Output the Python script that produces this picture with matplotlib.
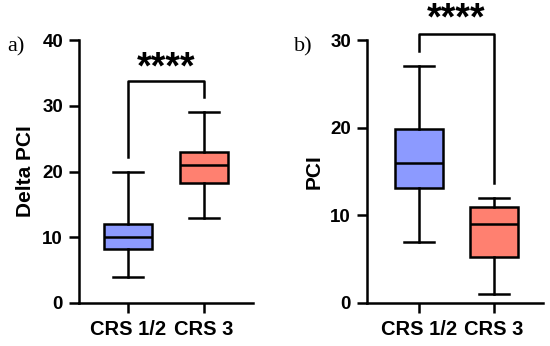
import matplotlib.pyplot as plt

plt.rcParams['font.family'] = ['Liberation Sans', 'DejaVu Sans']

groups = ["CRS 1/2", "CRS 3"]
colors = ["#8C9AFF", "#FF8070"]

# panel a: Delta PCI  (whislo, q1, med, q3, whishi)
delta_lo = [4, 13]
delta_q1 = [8.2, 18.2]
delta_med = [10, 21]
delta_q3 = [12, 23]
delta_hi = [20, 29]

# panel b: PCI
pci_lo = [7, 1]
pci_q1 = [13.1, 5.2]
pci_med = [16, 9]
pci_q3 = [19.9, 11]
pci_hi = [27, 12]


def draw_panel(ax, lo, q1, med, q3, hi, ylim, yticks, ylabel, bracket, star_y, xlim):
    stats = []
    for i in range(len(groups)):
        stats.append(dict(label=groups[i], whislo=lo[i], q1=q1[i], med=med[i],
                          q3=q3[i], whishi=hi[i]))
    bp = ax.bxp(stats, positions=[1, 2], widths=0.64, patch_artist=True,
                showfliers=False, capwidths=0.4,
                boxprops=dict(linewidth=1.8, edgecolor="black"),
                medianprops=dict(color="black", linewidth=1.8),
                whiskerprops=dict(color="black", linewidth=1.8),
                capprops=dict(color="black", linewidth=1.8))
    for patch, c in zip(bp["boxes"], colors):
        patch.set_facecolor(c)

    ax.set_xlim(*xlim)
    ax.set_ylim(*ylim)
    ax.set_yticks(yticks)
    ax.spines["top"].set_visible(False)
    ax.spines["right"].set_visible(False)
    for s in ["left", "bottom"]:
        ax.spines[s].set_linewidth(1.8)
    ax.tick_params(width=1.8, length=7.5, pad=4)
    ax.tick_params(axis="y", labelsize=13.5)
    ax.tick_params(axis="x", labelsize=14.5, pad=5)
    for lab in ax.get_xticklabels() + ax.get_yticklabels():
        lab.set_fontweight("bold")
    ax.set_ylabel(ylabel, fontsize=15, fontweight="bold", labelpad=5)

    yl, ytop, yr = bracket
    ax.plot([1, 1, 2, 2], [yl, ytop, ytop, yr], color="black", lw=1.8,
            clip_on=False)
    ax.text(1.5, star_y, "****", ha="center", va="center", fontsize=27,
            fontweight="bold", clip_on=False)


fig = plt.figure(figsize=(5.5, 3.46), dpi=100)
ax1 = fig.add_axes([0.1436, 0.1243, 0.3164, 0.76])
ax2 = fig.add_axes([0.667, 0.1243, 0.32, 0.76])

draw_panel(ax1, delta_lo, delta_q1, delta_med, delta_q3, delta_hi,
           (0, 40), [0, 10, 20, 30, 40], "Delta PCI", (22.2, 33.8, 31.3), 35.6,
           (0.355, 2.645))
draw_panel(ax2, pci_lo, pci_q1, pci_med, pci_q3, pci_hi,
           (0, 30), [0, 10, 20, 30], "PCI", (28.7, 30.7, 13.7), 32.3,
           (0.307, 2.65))

fig.text(0.013, 0.85, "a)", fontsize=16, family="Liberation Serif")
fig.text(0.535, 0.85, "b)", fontsize=16, family="Liberation Serif")

fig.savefig("out.png", dpi=100)
